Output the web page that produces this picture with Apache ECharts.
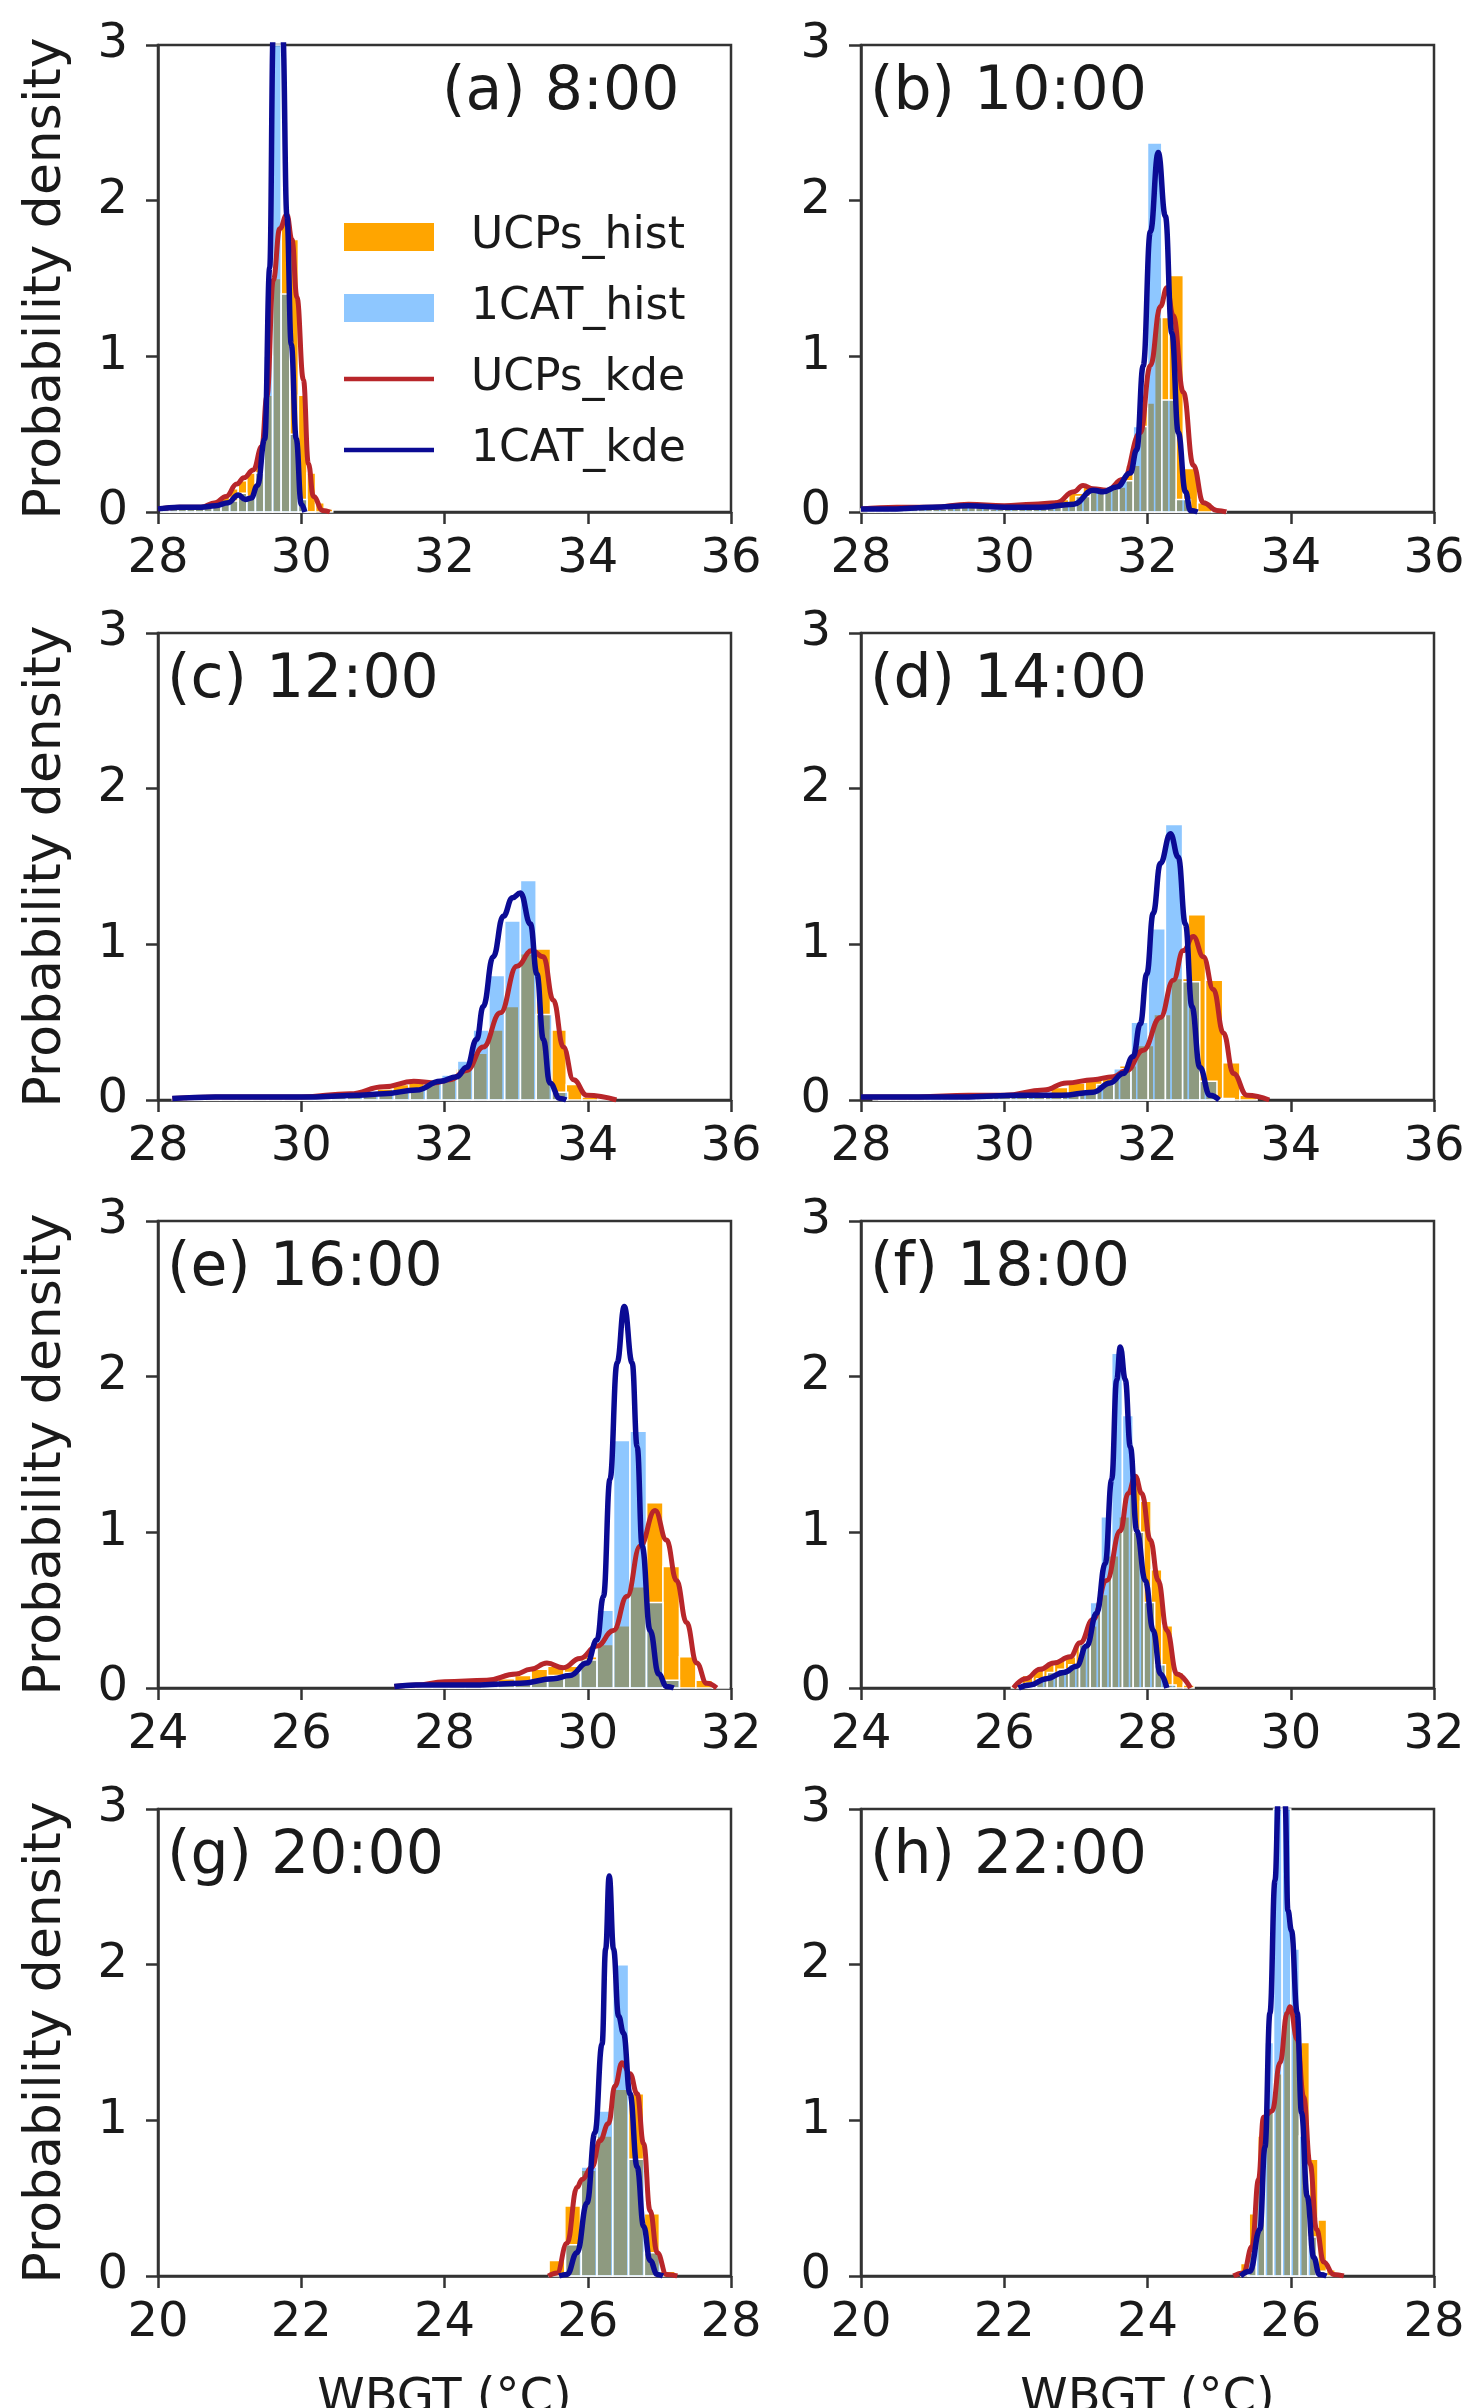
<!DOCTYPE html>
<html>
<head>
<meta charset="utf-8">
<script src="https://cdn.jsdelivr.net/npm/echarts@6/dist/echarts.min.js"></script>
<style>
html,body{margin:0;padding:0;background:#fff;}
#chart{width:1469px;height:2408px;}
</style>
</head>
<body>
<div id="chart"></div>
<script>
// ---------------- DATA ----------------
const panelTitles = ['(a) 8:00', '(b) 10:00', '(c) 12:00', '(d) 14:00', '(e) 16:00', '(f) 18:00', '(g) 20:00', '(h) 22:00'];
const xMins = [28, 28, 28, 28, 24, 24, 20, 20];
const xMaxs = [36, 36, 36, 36, 32, 32, 28, 28];
const yMin = 0, yMax = 3;
const xAxisTitle = 'WBGT (°C)';
const yAxisTitle = 'Probability density';
const legendNames = ['UCPs_hist', '1CAT_hist', 'UCPs_kde', '1CAT_kde'];

// histogram bins: first edge and bin width per panel
const ucpsHistStart = [28.04, 28.1, 28.2, 28.25, 27.37, 26.1, 25.46, 25.3];
const ucpsHistWidth = [0.12, 0.2, 0.22, 0.24, 0.23, 0.15, 0.22, 0.12];
const catHistStart  = [28.04, 28.0, 28.44, 28.17, 27.37, 26.3, 25.69, 25.4];
const catHistWidth  = [0.12, 0.2, 0.22, 0.24, 0.23, 0.15, 0.22, 0.12];

// histogram densities
const ucpsHist_a = [0.03,0.03,0.03,0.03,0.04,0.05,0.07,0.1,0.15,0.2,0.25,0.35,0.75,1.5,1.85,1.75,0.75,0.25,0.06,0.02];
const catHist_a  = [0.02,0.02,0.02,0.03,0.03,0.03,0.04,0.05,0.07,0.12,0.1,0.25,1.0,3.3,1.4,0.5,0.08,0.0];
const ucpsHist_b = [0.02,0.02,0.02,0.02,0.03,0.03,0.04,0.04,0.03,0.03,0.04,0.05,0.06,0.08,0.12,0.16,0.14,0.16,0.3,0.7,1.25,1.52,0.28,0.06,0.01];
const catHist_b  = [0.02,0.02,0.02,0.02,0.02,0.02,0.03,0.03,0.03,0.02,0.02,0.03,0.03,0.04,0.05,0.1,0.13,0.15,0.2,0.55,2.37,0.72,0.08];
const ucpsHist_c = [0.01,0.01,0.01,0.02,0.02,0.02,0.02,0.02,0.03,0.03,0.04,0.04,0.05,0.07,0.1,0.12,0.12,0.14,0.2,0.3,0.45,0.6,0.94,0.97,0.45,0.1,0.02,0.01];
const catHist_c  = [0.01,0.01,0.02,0.02,0.02,0.02,0.02,0.02,0.02,0.03,0.03,0.03,0.04,0.05,0.07,0.12,0.16,0.25,0.45,0.8,1.15,1.41,0.55,0.05];
const ucpsHist_d = [0.02,0.02,0.02,0.02,0.02,0.03,0.03,0.03,0.04,0.05,0.08,0.11,0.13,0.15,0.22,0.35,0.55,0.78,1.19,0.77,0.24,0.03];
const catHist_d  = [0.02,0.02,0.02,0.02,0.02,0.02,0.03,0.03,0.03,0.03,0.04,0.04,0.05,0.1,0.2,0.5,1.1,1.77,0.76,0.12,0.01];
const ucpsHist_e = [0.01,0.02,0.03,0.04,0.04,0.05,0.06,0.08,0.12,0.14,0.14,0.2,0.28,0.4,0.65,1.19,0.78,0.2,0.05,0.01];
const catHist_e  = [0.01,0.01,0.01,0.02,0.02,0.02,0.03,0.04,0.05,0.08,0.1,0.18,0.5,1.59,1.65,0.55,0.05];
const ucpsHist_f = [0.02,0.08,0.12,0.15,0.18,0.2,0.28,0.4,0.6,0.85,1.1,1.35,1.2,0.76,0.4,0.1,0.02];
const catHist_f  = [0.03,0.06,0.1,0.12,0.15,0.28,0.55,1.1,2.15,1.75,1.0,0.55,0.15,0.02];
const ucpsHist_g = [0.1,0.45,0.68,0.9,1.2,1.17,0.4,0.03];
const catHist_g  = [0.2,0.7,1.06,2.0,0.75,0.15];
const ucpsHist_h = [0.08,0.4,0.9,1.05,1.3,1.7,1.6,1.5,0.75,0.36,0.04];
const catHist_h  = [0.15,0.6,1.5,3.2,3.1,2.1,0.9,0.25,0.03];

// KDE curves [WBGT, density]
const ucpsKde_a = [[28.0,0.02],[28.3,0.03],[28.6,0.03],[28.8,0.06],[28.95,0.1],[29.1,0.18],[29.2,0.22],[29.33,0.27],[29.45,0.42],[29.52,0.74],[29.61,1.49],[29.7,1.82],[29.8,1.91],[29.87,1.75],[29.94,1.38],[30.03,0.85],[30.1,0.31],[30.17,0.1],[30.3,0.01],[30.4,0.0]];
const catKde_a  = [[28.0,0.02],[28.3,0.03],[28.6,0.03],[28.8,0.04],[28.98,0.06],[29.12,0.11],[29.22,0.08],[29.3,0.09],[29.39,0.17],[29.49,0.47],[29.56,1.57],[29.61,3.1],[29.67,3.6],[29.74,3.1],[29.8,1.9],[29.86,1.08],[29.93,0.47],[30.0,0.05],[30.05,0.0]];
const ucpsKde_b = [[28.0,0.02],[28.5,0.03],[29.0,0.03],[29.5,0.05],[30.0,0.04],[30.4,0.05],[30.73,0.06],[30.97,0.13],[31.1,0.17],[31.24,0.15],[31.43,0.14],[31.66,0.21],[31.9,0.51],[32.04,0.94],[32.18,1.32],[32.27,1.44],[32.36,1.26],[32.5,0.77],[32.64,0.3],[32.78,0.06],[32.97,0.01],[33.1,0.0]];
const catKde_b  = [[28.0,0.02],[28.5,0.02],[29.0,0.03],[29.5,0.04],[30.0,0.03],[30.5,0.03],[30.97,0.05],[31.24,0.14],[31.38,0.13],[31.57,0.16],[31.76,0.25],[31.85,0.4],[31.94,0.94],[32.04,1.8],[32.15,2.31],[32.25,1.9],[32.34,1.15],[32.43,0.51],[32.53,0.13],[32.6,0.01],[32.7,0.0]];
const ucpsKde_c = [[28.2,0.01],[28.8,0.02],[29.5,0.02],[30.0,0.02],[30.68,0.04],[31.15,0.085],[31.57,0.12],[31.85,0.11],[32.08,0.13],[32.31,0.19],[32.54,0.34],[32.78,0.56],[33.01,0.86],[33.22,0.96],[33.38,0.92],[33.52,0.64],[33.66,0.34],[33.8,0.13],[33.99,0.03],[34.4,0.0]];
const catKde_c  = [[28.2,0.01],[28.8,0.02],[29.5,0.02],[30.2,0.02],[30.8,0.03],[31.15,0.04],[31.61,0.064],[31.94,0.12],[32.17,0.15],[32.31,0.21],[32.45,0.39],[32.54,0.6],[32.68,0.92],[32.82,1.18],[32.95,1.3],[33.06,1.33],[33.2,1.13],[33.29,0.81],[33.38,0.39],[33.47,0.11],[33.61,0.01],[33.7,0.0]];
const ucpsKde_d = [[28.0,0.02],[28.8,0.02],[29.5,0.03],[30.0,0.03],[30.55,0.064],[30.87,0.11],[31.24,0.13],[31.52,0.15],[31.71,0.19],[31.94,0.32],[32.18,0.53],[32.36,0.77],[32.5,0.96],[32.64,1.05],[32.78,0.92],[32.92,0.71],[33.06,0.43],[33.2,0.17],[33.39,0.03],[33.7,0.0]];
const catKde_d  = [[28.0,0.02],[28.8,0.02],[29.5,0.02],[30.2,0.03],[30.8,0.03],[31.24,0.05],[31.48,0.11],[31.66,0.17],[31.8,0.28],[31.9,0.49],[31.99,0.81],[32.08,1.2],[32.18,1.52],[32.32,1.71],[32.43,1.56],[32.53,1.13],[32.62,0.6],[32.73,0.21],[32.87,0.03],[33.0,0.0]];
const ucpsKde_e = [[27.3,0.01],[27.6,0.02],[28.0,0.04],[28.59,0.05],[29.0,0.09],[29.2,0.12],[29.43,0.16],[29.66,0.13],[29.89,0.19],[30.13,0.27],[30.36,0.37],[30.55,0.59],[30.73,0.91],[30.94,1.14],[31.1,0.95],[31.24,0.69],[31.38,0.42],[31.52,0.16],[31.66,0.03],[31.8,0.0]];
const catKde_e  = [[27.3,0.01],[27.6,0.02],[28.0,0.02],[28.5,0.02],[29.06,0.03],[29.52,0.06],[29.75,0.08],[29.99,0.16],[30.13,0.31],[30.22,0.59],[30.31,1.34],[30.41,2.09],[30.51,2.45],[30.62,2.09],[30.69,1.55],[30.76,0.91],[30.87,0.37],[30.99,0.09],[31.1,0.01],[31.2,0.0]];
const ucpsKde_f = [[26.13,0.0],[26.3,0.06],[26.5,0.12],[26.69,0.16],[26.92,0.2],[27.06,0.29],[27.24,0.44],[27.43,0.69],[27.62,1.01],[27.73,1.25],[27.83,1.36],[27.92,1.25],[28.04,0.95],[28.15,0.69],[28.27,0.37],[28.41,0.09],[28.6,0.0]];
const catKde_f  = [[26.2,0.0],[26.36,0.02],[26.59,0.06],[26.83,0.1],[27.01,0.14],[27.15,0.27],[27.29,0.48],[27.41,0.8],[27.5,1.34],[27.57,1.98],[27.62,2.19],[27.69,1.98],[27.76,1.55],[27.85,1.01],[27.97,0.69],[28.08,0.37],[28.18,0.09],[28.27,0.0]];
const ucpsKde_g = [[25.45,0.0],[25.57,0.02],[25.71,0.21],[25.85,0.57],[25.92,0.62],[26.06,0.7],[26.17,0.87],[26.29,0.98],[26.38,1.22],[26.48,1.37],[26.59,1.3],[26.69,1.17],[26.78,0.85],[26.87,0.42],[26.97,0.15],[27.1,0.01],[27.25,0.0]];
const catKde_g  = [[25.6,0.0],[25.71,0.01],[25.85,0.15],[25.99,0.47],[26.1,0.92],[26.2,1.49],[26.25,2.1],[26.3,2.57],[26.36,2.1],[26.43,1.67],[26.5,1.56],[26.59,1.17],[26.69,0.7],[26.78,0.32],[26.87,0.1],[26.97,0.01],[27.05,0.0]];
const ucpsKde_h = [[25.2,0.0],[25.34,0.02],[25.46,0.19],[25.55,0.62],[25.62,1.02],[25.74,1.06],[25.85,1.37],[25.95,1.69],[25.99,1.73],[26.09,1.52],[26.18,1.15],[26.27,0.72],[26.36,0.3],[26.46,0.09],[26.6,0.01],[26.74,0.0]];
const catKde_h  = [[25.3,0.0],[25.43,0.03],[25.57,0.3],[25.64,0.83],[25.71,1.69],[25.78,2.54],[25.83,3.1],[25.87,3.4],[25.92,3.05],[25.96,2.35],[26.01,2.22],[26.09,1.69],[26.15,1.05],[26.23,0.51],[26.32,0.12],[26.4,0.01],[26.5,0.0]];

const ucpsHists = [ucpsHist_a, ucpsHist_b, ucpsHist_c, ucpsHist_d, ucpsHist_e, ucpsHist_f, ucpsHist_g, ucpsHist_h];
const catHists  = [catHist_a, catHist_b, catHist_c, catHist_d, catHist_e, catHist_f, catHist_g, catHist_h];
const ucpsKdes  = [ucpsKde_a, ucpsKde_b, ucpsKde_c, ucpsKde_d, ucpsKde_e, ucpsKde_f, ucpsKde_g, ucpsKde_h];
const catKdes   = [catKde_a, catKde_b, catKde_c, catKde_d, catKde_e, catKde_f, catKde_g, catKde_h];

// ---------------- LAYOUT / STYLE ----------------
const FONT = 'DejaVu Sans';
const TXT = '#1a1a1a';
const AX = '#333';
const gridLefts = [158, 861];
const gridTops = [45, 633, 1221, 1809];
const gridW = 573, gridH = 467;
const C_ORANGE = '#FFA500';
const C_BLUEHIST = 'rgba(30,144,255,0.5)';
const C_RED = '#B8262A';
const C_BLUE = '#0B0B94';
const LINE_ICON = 'path://M0,0 L100,0 L100,5 L0,5 Z';

function histData(start, width, heights) {
  return heights.map((h, i) => [start + i * width, start + (i + 1) * width, h]);
}
function histRender(params, api) {
  const p0 = api.coord([api.value(0), api.value(2)]);
  const p1 = api.coord([api.value(1), 0]);
  const cs = params.coordSys;
  const r = echarts.graphic.clipRectByRect(
    {x: p0[0], y: p0[1], width: p1[0] - p0[0], height: p1[1] - p0[1]},
    {x: cs.x, y: cs.y, width: cs.width, height: cs.height});
  if (!r) return null;
  return {type: 'rect', shape: r, style: {fill: api.visual('color'), stroke: '#fff', lineWidth: 1.5}};
}

const grids = [], xAxes = [], yAxes = [], series = [], titles = [];
for (let i = 0; i < 8; i++) {
  const col = i % 2, row = Math.floor(i / 2);
  grids.push({left: gridLefts[col], top: gridTops[row], width: gridW, height: gridH,
    containLabel: false, outerBoundsMode: 'none',
    show: true, borderColor: AX, borderWidth: 2.5, backgroundColor: 'transparent'});
  xAxes.push({gridIndex: i, type: 'value', min: xMins[i], max: xMaxs[i], interval: 2,
    axisLine: {show: true, onZero: false, lineStyle: {color: AX, width: 2.5}},
    axisTick: {show: true, length: 12, lineStyle: {color: AX, width: 2.5}},
    axisLabel: {fontSize: 48, color: TXT, fontFamily: FONT, margin: 24, showMinLabel: true, showMaxLabel: true, hideOverlap: false},
    splitLine: {show: false},
    name: row === 3 ? xAxisTitle : '', nameLocation: 'middle', nameGap: 100,
    nameTextStyle: {fontSize: 48, color: TXT, fontFamily: FONT}});
  yAxes.push({gridIndex: i, type: 'value', min: yMin, max: yMax, interval: 1,
    axisLine: {show: true, lineStyle: {color: AX, width: 2.5}},
    axisTick: {show: true, length: 12, lineStyle: {color: AX, width: 2.5}},
    axisLabel: {fontSize: 48, color: TXT, fontFamily: FONT, margin: 30},
    splitLine: {show: false},
    name: col === 0 ? yAxisTitle : '', nameLocation: 'middle', nameGap: 86,
    nameTextStyle: {fontSize: 52, color: TXT, fontFamily: FONT}});
  series.push({name: legendNames[0], type: 'custom', xAxisIndex: i, yAxisIndex: i,
    renderItem: histRender, encode: {x: [0, 1], y: 2},
    itemStyle: {color: C_ORANGE},
    data: histData(ucpsHistStart[i], ucpsHistWidth[i], ucpsHists[i])});
  series.push({name: legendNames[1], type: 'custom', xAxisIndex: i, yAxisIndex: i,
    renderItem: histRender, encode: {x: [0, 1], y: 2},
    itemStyle: {color: C_BLUEHIST},
    data: histData(catHistStart[i], catHistWidth[i], catHists[i])});
  series.push({name: legendNames[2], type: 'line', xAxisIndex: i, yAxisIndex: i,
    data: ucpsKdes[i], symbol: 'none', showSymbol: false, smooth: 0.45, smoothMonotone: 'x', clip: true,
    lineStyle: {color: C_RED, width: 5}, itemStyle: {color: C_RED}});
  series.push({name: legendNames[3], type: 'line', xAxisIndex: i, yAxisIndex: i,
    data: catKdes[i], symbol: 'none', showSymbol: false, smooth: 0.45, smoothMonotone: 'x', clip: true,
    lineStyle: {color: C_BLUE, width: 5.5}, itemStyle: {color: C_BLUE}});
  const tTop = gridTops[row] + 18;
  titles.push({text: panelTitles[i], left: i === 0 ? 442 : gridLefts[col] + 9, top: tTop, padding: 0,
    textStyle: {fontSize: 60, fontWeight: 'normal', color: TXT, fontFamily: FONT}});
}

const chart = echarts.init(document.getElementById('chart'), null, {renderer: 'canvas', width: 1469, height: 2408});
chart.setOption({
  backgroundColor: '#fff',
  animation: false,
  title: titles,
  legend: {
    data: [{name: 'UCPs_hist', icon: 'rect'}, {name: '1CAT_hist', icon: 'rect'},
           {name: 'UCPs_kde', icon: LINE_ICON}, {name: '1CAT_kde', icon: LINE_ICON}],
    orient: 'vertical', left: 339, top: 210, itemWidth: 90, itemHeight: 28, itemGap: 27,
    selectedMode: false,
    textStyle: {fontSize: 44, color: TXT, fontFamily: FONT, padding: [0, 0, 0, 32]}
  },
  grid: grids,
  xAxis: xAxes,
  yAxis: yAxes,
  series: series
});
</script>
</body>
</html>
